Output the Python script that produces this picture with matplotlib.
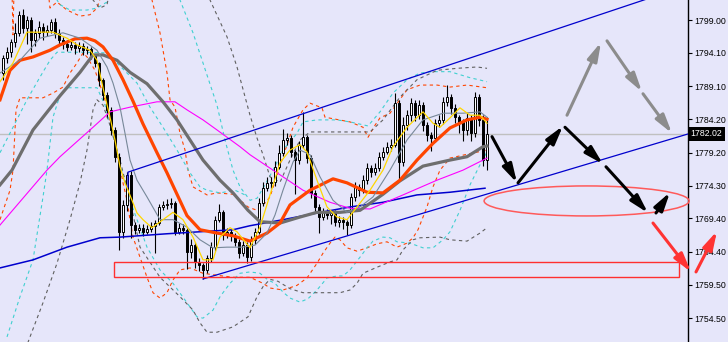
import matplotlib
matplotlib.use("Agg")
import matplotlib.pyplot as plt
from matplotlib.patches import Rectangle, Ellipse
import numpy as np

plt.rcParams['font.family'] = ['Liberation Sans', 'DejaVu Sans']

# candles (bar index 0..121), open = previous close
first_open = 1791.1
closes = [1793.3, 1794.2, 1795.7, 1797.1, 1799.8, 1797.8, 1799.0, 1796.0, 1797.1, 1798.0,
          1797.2, 1797.5, 1798.7, 1797.1, 1796.0, 1795.4, 1795.0, 1795.3, 1794.8, 1795.1,
          1794.5, 1794.7, 1793.8, 1792.6, 1790.1, 1787.8, 1785.6, 1782.6, 1778.6, 1767.4,
          1771.4, 1775.9, 1768.4, 1767.7, 1768.0, 1767.4, 1767.8, 1768.3, 1768.7, 1771.1,
          1771.4, 1771.5, 1771.7, 1767.4, 1768.0, 1767.7, 1764.4, 1765.4, 1762.9, 1762.4,
          1761.7, 1763.5, 1765.1, 1769.2, 1770.3, 1766.9, 1767.4, 1766.8, 1765.9, 1764.2,
          1765.4, 1763.6, 1766.2, 1767.4, 1771.7, 1773.9, 1774.7, 1774.8, 1777.1, 1779.2,
          1781.1, 1781.4, 1779.3, 1778.1, 1780.4, 1781.5, 1778.4, 1773.2, 1771.1, 1769.6,
          1770.3, 1769.9, 1770.2, 1768.9, 1769.2, 1768.9, 1768.4, 1772.6, 1774.1, 1773.6,
          1775.1, 1776.9, 1776.3, 1776.9, 1778.6, 1779.3, 1780.1, 1780.4, 1786.6, 1777.8,
          1783.3, 1784.8, 1786.6, 1784.8, 1786.3, 1783.3, 1781.8, 1781.4, 1783.6, 1784.1,
          1786.8, 1787.5, 1785.9, 1784.5, 1783.8, 1782.6, 1784.4, 1782.1, 1787.5, 1784.1,
          1778.1, 1782.0]
highs = [1793.8, 1795.0, 1796.2, 1798.5, 1800.3, 1800.6, 1799.6, 1799.4, 1797.6, 1798.9,
         1798.6, 1798.2, 1799.2, 1799.3, 1797.6, 1796.5, 1796.0, 1795.9, 1795.8, 1795.7,
         1795.6, 1795.2, 1795.0, 1794.0, 1792.8, 1790.4, 1788.2, 1786.0, 1783.0, 1779.2,
         1772.2, 1776.3, 1776.5, 1768.8, 1768.6, 1768.5, 1768.4, 1768.9, 1769.2, 1771.6,
         1772.0, 1772.3, 1772.5, 1772.0, 1768.7, 1768.5, 1768.0, 1766.3, 1765.8, 1763.5,
         1762.8, 1764.0, 1765.8, 1769.8, 1771.5, 1770.7, 1768.0, 1767.8, 1767.2, 1766.3,
         1766.0, 1765.8, 1766.8, 1768.0, 1772.4, 1774.8, 1775.5, 1775.6, 1778.0, 1780.3,
         1782.8, 1782.2, 1781.8, 1779.6, 1781.0, 1785.3, 1781.9, 1778.8, 1773.6, 1771.5,
         1770.9, 1770.8, 1770.7, 1770.6, 1769.8, 1769.6, 1769.2, 1773.2, 1774.9, 1774.6,
         1775.8, 1777.6, 1777.4, 1777.6, 1779.3, 1780.0, 1780.8, 1781.2, 1788.1, 1787.0,
         1784.5, 1785.6, 1787.4, 1787.1, 1787.0, 1786.8, 1783.8, 1782.3, 1784.2, 1784.9,
         1787.5, 1789.3, 1787.9, 1786.4, 1784.9, 1784.3, 1785.2, 1784.9, 1788.3, 1788.0,
         1784.8, 1784.5]
lows = [1790.0, 1792.6, 1793.5, 1795.0, 1796.6, 1797.0, 1795.5, 1794.2, 1795.2, 1796.4,
        1796.0, 1796.6, 1797.0, 1796.4, 1795.3, 1794.7, 1794.4, 1794.5, 1794.0, 1794.3,
        1793.8, 1794.0, 1793.2, 1792.0, 1789.2, 1787.0, 1784.5, 1781.8, 1777.8, 1764.7,
        1766.5, 1770.5, 1766.4, 1767.0, 1767.2, 1766.8, 1767.0, 1767.3, 1764.3, 1768.4,
        1770.6, 1770.8, 1770.9, 1766.9, 1767.1, 1767.0, 1761.8, 1763.5, 1762.0, 1761.5,
        1760.3, 1761.2, 1762.9, 1764.6, 1768.8, 1766.2, 1766.5, 1766.0, 1765.3, 1763.5,
        1763.8, 1762.8, 1763.0, 1765.5, 1767.0, 1771.2, 1773.5, 1774.0, 1774.3, 1776.7,
        1778.7, 1780.4, 1778.5, 1773.0, 1777.5, 1779.9, 1777.6, 1772.5, 1770.2, 1767.2,
        1769.2, 1769.3, 1768.6, 1768.3, 1768.1, 1767.8, 1766.9, 1768.0, 1772.0, 1772.8,
        1773.2, 1774.6, 1775.5, 1775.8, 1776.4, 1778.1, 1779.0, 1779.5, 1780.0, 1775.1,
        1777.2, 1782.6, 1784.0, 1784.0, 1784.2, 1782.5, 1780.9, 1779.5, 1780.8, 1783.0,
        1783.5, 1786.2, 1785.0, 1783.6, 1782.1, 1781.0, 1781.9, 1780.9, 1781.5, 1783.2,
        1777.2, 1776.6]
last_price = 1782.02

# moving averages (x = bar index, y = price)
ma_fast_x = [-0.75, 2.5, 6, 10, 12.5, 16, 18.5, 21.75, 23.5, 25, 26.75, 28, 29.25, 30.5, 32.25,
             33.5, 35, 37.25, 40, 42.5, 45, 47.5, 50, 52.5, 54.25, 56.75, 58.5, 61.75, 64.25,
             66.75, 69.25, 71.75, 74.25, 76, 78.5, 81, 83.5, 86, 88.5, 91.75, 95, 97.5, 101,
             105, 107.5, 109.25, 111.75, 114.25, 116.75, 119.25, 121]
ma_fast_y = [1789.8, 1792.6, 1797.2, 1797.2, 1797.2, 1796.3, 1795.3, 1794.5, 1793.0, 1788.9,
             1784.5, 1781.1, 1777.1, 1774.7, 1772.1, 1770.2, 1769.2, 1768.0, 1769.2, 1770.3,
             1769.2, 1766.6, 1763.2, 1763.2, 1766.6, 1768.0, 1767.4, 1765.0, 1768.1, 1772.9,
             1777.7, 1779.6, 1780.4, 1779.3, 1775.1, 1771.1, 1769.6, 1769.2, 1771.1, 1773.6,
             1776.6, 1780.1, 1783.0, 1785.3, 1783.6, 1783.0, 1784.4, 1785.9, 1784.8, 1784.8,
             1783.6]
ma_slate_x = [-0.75, 4.25, 9.25, 15, 19.25, 23.5, 26, 27.5, 29.25, 30.5, 31.75, 33.5, 36, 39.25,
              42.5, 46, 49.25, 52.5, 56, 60, 63, 66, 68, 70, 72.5, 74.25, 76.75, 79.25, 82.5,
              86, 89.25, 92.5, 96.75, 101, 105, 110, 115, 119.25, 121]
ma_slate_y = [1791.1, 1793.0, 1796.3, 1797.1, 1796.3, 1794.5, 1792.0, 1789.6, 1786.0, 1782.1,
              1778.1, 1775.1, 1772.6, 1769.2, 1769.2, 1768.1, 1766.2, 1765.0, 1765.1, 1765.1,
              1765.4, 1767.2, 1769.9, 1773.6, 1777.8, 1779.6, 1778.9, 1775.6, 1772.1, 1770.3,
              1771.1, 1772.6, 1776.6, 1781.1, 1784.1, 1785.1, 1785.1, 1785.3, 1784.5]
ma_orange_x = [-0.75, 1.75, 4.25, 7.5, 11.75, 14.25, 18, 21, 23, 25, 27.5, 30, 32.5, 35, 38.5,
               41, 43.5, 46, 49.25, 53.5, 57.5, 61.75, 66, 69.25, 71.75, 76.75, 82.5, 86, 91,
               95, 99.25, 103.5, 107.5, 111.75, 116, 119.25, 121]
ma_orange_y = [1787.1, 1791.5, 1793.0, 1793.5, 1794.5, 1795.3, 1796.2, 1796.3, 1795.9, 1795.0,
               1793.0, 1790.1, 1786.9, 1783.5, 1779.2, 1776.2, 1773.0, 1769.8, 1767.7, 1767.2,
               1766.8, 1766.0, 1767.2, 1768.7, 1771.4, 1773.6, 1775.3, 1774.7, 1773.3, 1773.2,
               1775.1, 1778.1, 1780.6, 1782.9, 1784.1, 1784.5, 1784.2]
ma_gray_x = [-0.75, 2.25, 7.5, 14.25, 19.25, 22.5, 25, 28.5, 31.75, 36, 40, 43.5, 46.75, 50,
             54.25, 57.5, 61.25, 64.25, 69.25, 74.25, 78.5, 84.25, 89.25, 95, 99.25, 105,
             111.75, 116, 120, 121]
ma_gray_y = [1774.4, 1776.6, 1782.6, 1787.7, 1791.2, 1793.8, 1793.8, 1793.0, 1791.2, 1789.5,
             1786.8, 1784.1, 1781.1, 1778.1, 1775.1, 1773.2, 1770.6, 1768.9, 1768.7, 1769.6,
             1770.3, 1770.3, 1770.6, 1773.0, 1775.0, 1777.2, 1778.1, 1778.6, 1780.1, 1780.2]
ma_magenta_x = [-0.75, 11, 14.25, 22.5, 26.75, 31.75, 38.5, 43, 46, 50, 53.5, 59.25, 61.75,
                68.5, 75, 81.75, 86.75, 91.75, 100, 108.5, 115, 121]
ma_magenta_y = [1768.4, 1776.6, 1778.6, 1783.0, 1785.3, 1786.0, 1786.8, 1786.8, 1785.6, 1784.1,
                1782.6, 1780.1, 1778.9, 1776.2, 1773.6, 1771.8, 1770.9, 1770.8, 1772.9, 1775.1,
                1776.6, 1778.4]
ma_blue_x = [-0.75, 7.5, 16, 24.25, 29.25, 41, 49.25, 57.5, 61.75, 70, 78.5, 86.75, 95, 103.5,
             111.75, 120.5]
ma_blue_y = [1762.0, 1763.2, 1765.1, 1766.5, 1766.6, 1767.1, 1767.4, 1767.7, 1768.3, 1769.2,
             1770.2, 1771.1, 1771.8, 1772.9, 1773.3, 1773.9]

# envelope bands (dashed)
or_up_x = [-0.75, 2.25, 2.5, 2.75, 11.25, 11.75, 13.5, 16, 19.25, 21.75, 23.5, 25, 36.75, 37.25,
           39.25, 41, 41.75, 43, 44.25, 45.5, 46.25, 47.5, 51, 53.5, 57.5, 61.25, 63.5, 65.5,
           66.75, 70, 72.5, 75, 76.75, 79.75, 80.5, 86.75, 90, 91.25, 93, 94.25, 96.75, 101,
           104.25, 108.5, 111.75, 116, 121]
or_up_y = [1803.5, 1803.5, 1796.8, 1803.5, 1803.5, 1800.8, 1801.7, 1800.5, 1799.6, 1799.8,
           1800.8, 1803.5, 1803.5, 1802.0, 1797.1, 1791.1, 1787.1, 1786.0, 1782.1, 1779.6,
           1776.6, 1774.1, 1772.9, 1773.2, 1773.0, 1771.1, 1770.6, 1771.7, 1772.6, 1778.6,
           1783.0, 1785.6, 1786.6, 1785.9, 1784.5, 1783.8, 1783.0, 1781.5, 1783.3, 1784.4,
           1785.1, 1788.6, 1789.3, 1789.3, 1789.0, 1789.3, 1788.9]
or_lo_x = [-0.75, 1.75, 2.5, 3.25, 4.25, 10, 12.5, 15, 16.75, 18.5, 20, 21, 23, 25.5, 27.5,
           29.25, 30, 31, 31.75, 32.5, 34.25, 36, 37.5, 39.25, 41, 42.5, 44.25, 46.75, 50,
           53.5, 57.5, 61.75, 65, 66.75, 70, 73.5, 76, 78.5, 80, 81.75, 83, 84.25, 86, 88.5,
           91, 93.5, 96, 98.5, 101, 102.5, 103.75, 106, 107.5, 109.25, 111.75, 115.5, 121]
or_lo_y = [1769.2, 1773.6, 1776.6, 1785.6, 1787.4, 1787.4, 1788.1, 1789.0, 1791.1, 1792.6,
           1794.1, 1793.5, 1791.5, 1787.1, 1781.8, 1777.1, 1774.7, 1772.1, 1769.2, 1766.6,
           1763.6, 1760.6, 1758.3, 1757.5, 1758.3, 1760.2, 1761.7, 1762.0, 1761.2, 1760.9,
           1760.6, 1760.6, 1759.7, 1759.0, 1758.7, 1759.4, 1760.5, 1762.7, 1764.2, 1765.7,
           1766.6, 1766.2, 1765.0, 1764.5, 1765.0, 1765.6, 1765.9, 1765.1, 1765.7, 1766.5,
           1767.7, 1771.1, 1774.1, 1776.6, 1778.4, 1778.9, 1779.6]
cy_up_x = [-0.75, 13, 13.5, 14.25, 16.75, 21, 23.5, 26, 26.75, 43.75, 44.25, 47.5, 51, 53.5,
           55.5, 57.5, 59.25, 61.75, 63.5, 65.5, 67.5, 70, 73.5, 75, 78.5, 83.5, 86.75, 91.25,
           94.25, 97.5, 101, 104.25, 107.5, 111.75, 116.75, 121]
cy_up_y = [1803.5, 1803.5, 1802.0, 1801.3, 1800.5, 1800.5, 1800.8, 1801.7, 1803.5, 1803.5,
           1802.0, 1797.1, 1790.8, 1786.3, 1781.1, 1776.6, 1774.1, 1772.1, 1772.4, 1774.4,
           1776.6, 1779.6, 1782.1, 1783.8, 1784.1, 1784.1, 1783.8, 1783.2, 1785.3, 1788.1,
           1790.1, 1791.1, 1791.3, 1791.3, 1790.4, 1789.8]
cy_lo_x = [1, 4.25, 7.5, 10, 11, 12.5, 14.25, 16, 23.5, 25.5, 27.5, 29.25, 31.75, 36, 39.25,
           42.5, 46, 48.5, 50, 52.5, 54.25, 56.75, 59.25, 61.75, 64.25, 66.25, 68, 70, 71.75,
           74.25, 76.25, 78.5, 81, 83.5, 85, 86.75, 89.25, 91, 92.5, 95, 96.75, 98.5, 101.75,
           105, 107.5, 110, 111.75, 114.25, 116.75, 119.25, 121]
cy_lo_y = [1751.7, 1757.7, 1763.2, 1772.6, 1776.6, 1784.5, 1787.8, 1788.9, 1788.9, 1786.3,
           1781.8, 1777.4, 1772.1, 1765.1, 1761.7, 1759.7, 1756.8, 1754.7, 1754.5, 1755.7,
           1757.7, 1759.7, 1761.2, 1761.4, 1761.2, 1760.2, 1759.7, 1758.4, 1757.5, 1756.9,
           1757.4, 1758.7, 1760.5, 1760.8, 1760.8, 1761.7, 1763.6, 1765.0, 1766.0, 1766.6,
           1766.5, 1765.9, 1765.7, 1765.0, 1765.0, 1766.2, 1767.4, 1770.6, 1774.4, 1777.4,
           1779.3]
cy_mid_x = [-0.75, 2.5, 6, 9.25, 11.75, 13.5, 19.75, 26, 33.5, 36.75, 40, 43.5, 46.75, 49.25,
            51, 54.25, 58, 60.5]
cy_mid_y = [1779.2, 1783.0, 1787.1, 1790.5, 1793.0, 1794.2, 1794.2, 1794.1, 1789.6, 1786.0,
            1783.0, 1779.6, 1776.2, 1774.1, 1773.6, 1773.2, 1773.6, 1772.9]
gr_up_x = [-0.75, 22.25, 22.5, 24.25, 26, 26.75, 51.25, 51.75, 56, 58.5, 61.75, 63.5, 65,
           66.75, 69.25, 71.75, 74.25, 76.75, 91.75, 95, 99.25, 103.5, 108.5, 113.5, 118.5, 121]
gr_up_y = [1803.5, 1803.5, 1802.0, 1800.8, 1801.3, 1803.5, 1803.5, 1802.0, 1796.5, 1792.0,
           1784.8, 1781.4, 1778.9, 1775.6, 1774.8, 1778.1, 1781.1, 1782.3, 1782.3, 1784.1,
           1787.5, 1790.1, 1791.5, 1791.8, 1792.0, 1791.8]
gr_lo_x = [5.5, 6.75, 10, 13.5, 16.75, 19.25, 21, 22.5, 23.5, 25, 26.75, 29.25, 31.75, 34.25,
           39.25, 44.25, 47.5, 49.25, 51, 53.5, 57.5, 61.25, 63.5, 65, 66.75, 68.75, 71.75, 75,
           84.25, 86.75, 88.5, 90, 93.5, 96.75, 98.5, 100, 102.5, 104.25, 109.25, 111.75, 116,
           119.25, 121]
gr_lo_y = [1749.7, 1751.7, 1756.8, 1762.7, 1769.2, 1774.7, 1779.6, 1785.6, 1787.1, 1786.3,
           1783.3, 1778.1, 1772.1, 1765.1, 1760.6, 1757.7, 1755.7, 1753.8, 1752.4, 1752.4,
           1753.2, 1754.7, 1757.7, 1759.2, 1760.3, 1760.0, 1758.9, 1758.3, 1758.3, 1758.7,
           1759.7, 1761.2, 1762.1, 1762.9, 1763.2, 1764.7, 1766.2, 1766.5, 1766.6, 1766.2,
           1766.0, 1767.2, 1768.0]

# drawn objects
chan_up_x = [31.25, 31.25, 171.25]
chan_up_y = [1774.1, 1776.3, 1804.2]
chan_lo_x = [50, 171.25]
chan_lo_y = [1760.35, 1782.0]
zone_x = (27.75, 169.0)
zone_y = (1760.6, 1762.9)
ellipse_c = (145.9, 1772.0)
ellipse_w, ellipse_h = 51.25, 4.48

black_path = [((122.25, 1781.6), (128.5, 1774.7)), ((128.75, 1774.7), (140.0, 1783.2)),
              ((140.5, 1783.0), (150.0, 1777.5)), ((150.75, 1777.1), (161.25, 1770.2)),
              ((163.25, 1770.2), (166.75, 1773.3))]
gray_path = [((141.0, 1784.8), (149.5, 1795.7)), ((151.0, 1795.9), (159.75, 1788.3)),
             ((160.0, 1788.0), (167.25, 1782.1))]
red_path = [((162.5, 1768.7), (172.0, 1761.4)), ((173.25, 1761.4), (178.5, 1767.5))]

yticks = [1799.00, 1794.10, 1789.10, 1784.20, 1779.20, 1774.30, 1769.40, 1764.40, 1759.50, 1754.50]

bg = '#e6e6fa'
fig = plt.figure(figsize=(7.28, 3.42), dpi=100, facecolor=bg)
ax = fig.add_axes([0, 0, 688 / 728, 1])
ax.set_facecolor(bg)

ax.axhline(last_price, color='#c0c0c0', lw=1, zorder=1)

dash = (0, (3, 3))
ax.plot(or_up_x, or_up_y, color='#ff4500', lw=0.8, ls=dash, zorder=2)
ax.plot(or_lo_x, or_lo_y, color='#ff4500', lw=0.8, ls=dash, zorder=2)
ax.plot(cy_up_x, cy_up_y, color='#40d0d0', lw=0.8, ls=dash, zorder=2)
ax.plot(cy_lo_x, cy_lo_y, color='#40d0d0', lw=0.8, ls=dash, zorder=2)
ax.plot(cy_mid_x, cy_mid_y, color='#40d0d0', lw=0.8, ls=dash, zorder=2)
ax.plot(gr_up_x, gr_up_y, color='#606060', lw=0.8, ls=dash, zorder=2)
ax.plot(gr_lo_x, gr_lo_y, color='#606060', lw=0.8, ls=dash, zorder=2)

# candles
idx = np.arange(len(closes))
opens = np.array([first_open] + closes[:-1])
cl = np.array(closes)
ax.vlines(idx, lows, highs, color='black', lw=0.8, zorder=3)
body_lo = np.minimum(opens, cl)
body_h = np.maximum(np.abs(cl - opens), 0.05)
fills = ['white' if c >= o else 'black' for o, c in zip(opens, cl)]
ax.bar(idx, body_h, bottom=body_lo, width=0.6, color=fills, edgecolor='black', lw=0.7, zorder=3)

# indicators
ax.plot(ma_blue_x, ma_blue_y, color='#0000cd', lw=1.1, zorder=4)
ax.plot(ma_magenta_x, ma_magenta_y, color='#ff00ff', lw=0.8, zorder=4)
ax.plot(ma_gray_x, ma_gray_y, color='#6e6e6e', lw=2.3, zorder=4)
ax.plot(ma_orange_x, ma_orange_y, color='#ff4500', lw=2.3, zorder=4)
ax.plot(ma_slate_x, ma_slate_y, color='#778899', lw=0.8, zorder=4)
ax.plot(ma_fast_x, ma_fast_y, color='#ffd700', lw=0.9, zorder=4)

# channel, zone and ellipse
ax.plot(chan_up_x, chan_up_y, color='#0000cd', lw=0.9, zorder=5)
ax.plot(chan_lo_x, chan_lo_y, color='#0000cd', lw=0.9, zorder=5)
ax.add_patch(Rectangle((zone_x[0], zone_y[0]), zone_x[1] - zone_x[0], zone_y[1] - zone_y[0],
                       fill=False, ec='#ff3030', lw=1, zorder=5))
ax.add_patch(Ellipse(ellipse_c, ellipse_w, ellipse_h, fill=False, ec='#ff5a5a', lw=1.1,
                     zorder=5, clip_on=False))

def arrows(path, color):
    for (x0, y0), (x1, y1) in path:
        ax.annotate('', xy=(x1, y1), xytext=(x0, y0), annotation_clip=False, zorder=6,
                    arrowprops=dict(arrowstyle='-|>,head_length=1.1,head_width=0.3',
                                    color=color, lw=2.2, shrinkA=0, shrinkB=0,
                                    mutation_scale=10))

arrows(black_path, 'black')
arrows(gray_path, '#8c8c8c')
arrows(red_path, '#ff3333')

ax.set_xlim(-0.75, 171.25)
ax.set_ylim(1750.94, 1802.0)
ax.set_xticks([])
for s in ['top', 'bottom', 'left']:
    ax.spines[s].set_visible(False)
ax.spines['right'].set_color('black')
ax.spines['right'].set_linewidth(1)
ax.yaxis.tick_right()
ax.set_yticks(yticks)
ax.set_yticklabels([f'{v:.2f}' for v in yticks])
ax.tick_params(axis='y', length=3, width=0.8, pad=1.5, labelsize=6.3, colors='black')

ax.annotate(f'{last_price:.2f}', xy=(1, last_price), xycoords=('axes fraction', 'data'),
            xytext=(2, 0), textcoords='offset points', va='center', ha='left',
            color='white', fontsize=6.3, zorder=7, annotation_clip=False,
            bbox=dict(boxstyle='square,pad=0.25', fc='black', ec='none'))

fig.savefig('out.png', dpi=100, facecolor=bg)
